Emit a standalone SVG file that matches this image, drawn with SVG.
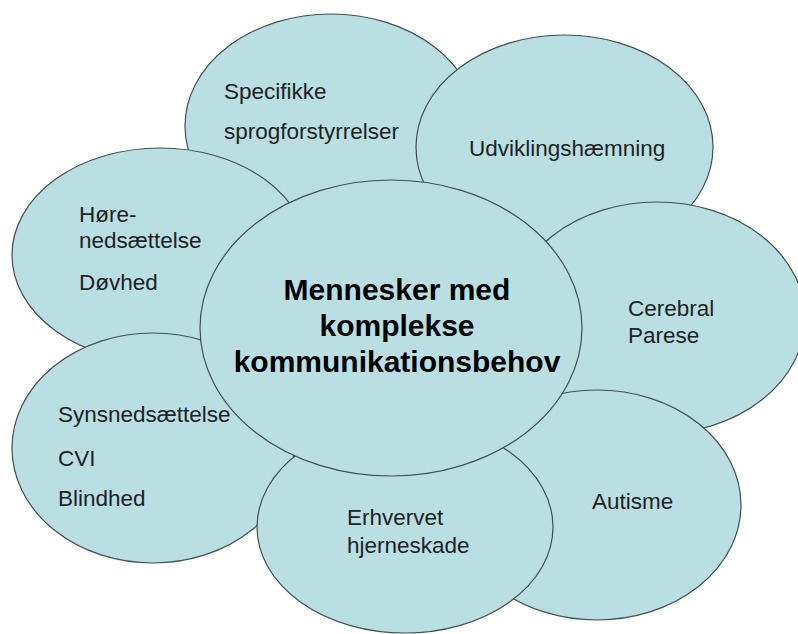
<svg xmlns="http://www.w3.org/2000/svg" width="798" height="634" viewBox="0 0 798 634">
<style>
.petal{fill:#badfe3;stroke:#3f5152;stroke-width:1.2}
.lbl{font-family:"Liberation Sans",Arial,sans-serif;font-size:22.5px;fill:#1c2324}
.hub{font-family:"Liberation Sans",Arial,sans-serif;font-size:30px;font-weight:bold;fill:#000;text-anchor:middle}
</style>
<rect width="798" height="634" fill="#ffffff"/>
<g id="connectors"/>
<g id="specifikke">
<ellipse class="petal" cx="331" cy="126" rx="146" ry="112"/>
<text class="lbl" x="224" y="99">Specifikke</text>
<text class="lbl" x="224" y="139">sprogforstyrrelser</text>
</g>
<g id="udvikling">
<ellipse class="petal" cx="564.5" cy="147" rx="148.5" ry="112"/>
<text class="lbl" x="469" y="156">Udviklingshæmning</text>
</g>
<g id="cerebral">
<ellipse class="petal" cx="657" cy="318" rx="148" ry="116"/>
<text class="lbl" x="628" y="316">Cerebral</text>
<text class="lbl" x="628" y="343">Parese</text>
</g>
<g id="autisme">
<ellipse class="petal" cx="597" cy="505" rx="144" ry="115"/>
<text class="lbl" x="592" y="509">Autisme</text>
</g>
<g id="hore">
<ellipse class="petal" cx="160" cy="255" rx="148" ry="107"/>
<text class="lbl" x="79" y="222">Høre-</text>
<text class="lbl" x="79" y="248">nedsættelse</text>
<text class="lbl" x="79" y="290">Døvhed</text>
</g>
<g id="synsnedsaettelse">
<ellipse class="petal" cx="153" cy="448" rx="141" ry="115"/>
<text class="lbl" x="58" y="422">Synsnedsættelse</text>
<text class="lbl" x="58" y="466">CVI</text>
<text class="lbl" x="58" y="506">Blindhed</text>
</g>
<g id="erhvervet">
<ellipse class="petal" cx="405" cy="527" rx="148" ry="106"/>
<text class="lbl" x="347" y="525">Erhvervet</text>
<text class="lbl" x="347" y="553">hjerneskade</text>
</g>
<g id="center">
<ellipse class="petal" cx="391" cy="328" rx="191" ry="148"/>
<text class="hub" x="397" y="300">Mennesker med</text>
<text class="hub" x="397" y="336">komplekse</text>
<text class="hub" x="397" y="372">kommunikationsbehov</text>
</g>
</svg>
